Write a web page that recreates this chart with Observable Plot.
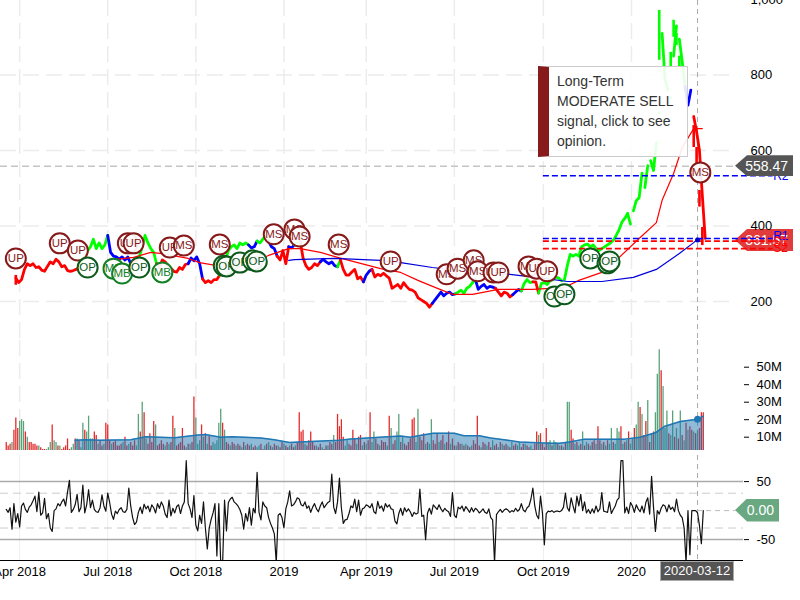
<!DOCTYPE html>
<html><head><meta charset="utf-8">
<script src="https://cdn.jsdelivr.net/npm/d3@7"></script>
<script src="https://cdn.jsdelivr.net/npm/@observablehq/plot@0.6"></script>
<style>
html,body{margin:0;padding:0;background:#fff;font-family:"Liberation Sans",Arial,sans-serif}
#root{position:relative;width:800px;height:600px;overflow:hidden}
#root svg{position:absolute;left:0;background:transparent}
.tag{position:absolute;color:#fff;font-size:14px;display:flex;align-items:center;justify-content:flex-end;box-sizing:border-box;padding-right:5px;clip-path:polygon(0 50%,12px 0,100% 0,100% 100%,12px 100%)}
#tip{position:absolute;left:538px;top:66px;width:150px;height:91px;box-sizing:border-box;background:rgba(255,255,255,.9);border:1px solid #ccc;border-left:11px solid #871a1a;padding:4px 10px 0 8px;font-size:14px;line-height:20px;color:#333}
#date{position:absolute;left:660px;top:561px;width:74px;height:20px;background:#555;border:1px solid #aaa;box-sizing:border-box;color:#fff;font-size:13px;line-height:18px;text-align:center}
</style></head><body><div id="root"></div>
<script>
const xStart = new Date("2018-03-13"), xEnd = new Date("2020-04-27");
const tickDates = ["2018-04-02","2018-07-03","2018-10-03","2019-01-03","2019-03-30","2019-06-30","2019-10-01","2020-01-01"].map(d=>new Date(d));
const tickLabels = ["Apr 2018","Jul 2018","Oct 2018","2019","Apr 2019","Jul 2019","Oct 2019","2020"];
const crossDate = new Date("2020-03-10");
const crossLabel = "2020-03-12";

const priceStart = new Date("2018-03-29");
const prices = [262,250,258,285,300,295,300,290,292,283,280,293,305,300,312,305,292,295,282,280,282,285,
290,305,320,335,345,365,340,355,340,350,375,330,320,318,312,318,310,318,300,305,308,318,345,375,355,340,330,
300,290,310,305,295,288,280,278,290,285,298,300,315,308,318,300,260,250,255,250,258,258,270,290,310,335,345,350,340,355,350,355,
350,342,345,360,355,365,375,360,345,340,320,310,335,300,345,342,350,355,360,315,295,285,290,300,295,305,312,305,300,305,295,292,310,
285,270,270,278,285,260,265,252,270,280,285,265,272,268,275,268,262,235,240,245,235,250,240,232,230,225,210,205,200,195,185,195,205,
215,225,215,222,225,218,220,225,230,222,235,240,250,258,232,240,245,235,240,238,235,225,215,225,222,212,218,225,232,228,
248,258,250,252,252,222,248,250,245,255,258,265,262,255,258,295,325,320,325,320,345,350,352,345,350,340,335,340,345,350,355,
362,375,390,410,420,433,405,440,467,475,540,502,560,573,547,620,700,910,790,760,740,850,930,895,835,770,720,760,690,650,600,481,367];
const runStart = [0,22,32,40,43,49,60,65,71,81,84,88,91,95,97,99,106,112,113,121,124,145,153,159,160,167,173,176,180,182,191,213,215,219,221,223,224,225,228,229,231,233,236];
const runColor = ["#f00","#0f0","#00f","#f00","#0f0","#f00","#00f","#f00","#0f0","#00f","#0f0","#00f","#f00","#00f","#0f0","#f00","#00f","#0f0","#f00","#00f","#f00","#00f","#0f0","#0f0","#00f","#f00","#00f","#0f0","#f00","#0f0","#0f0","#0f0","#0f0","#0f0","#0f0","#0f0","#0f0","#0f0","#0f0","#0f0","#0f0","#00f","#f00"];
// runs that do not join the run before them
const gapRuns = [191,215,219,221,224,225,228,229,231,236];
const wickIdx  = [0,224,228,229,230,231,236,237,238,239];
const wickLow  = [243,839,820,900,878,820,608,565,450,348];
const wickHigh = [269,971,860,945,910,850,666,608,494,396];
const wickColor= ["#f00","#0f0","#0f0","#0f0","#0f0","#0f0","#f00","#f00","#f00","#f00"];

const redMaIdx = [32,41,47,51,60,64,76,88,95,99,106,112,120,127,134,140,147,152,159,168,180,191,196,204,209,217,223,225,229,232,236,239];
const redMaVal = [309,317,330,327,314,303,287,322,340,340,330,317,301,287,277,256,234,219,219,232,232,237,256,277,309,367,409,468,539,608,658,658];
const blueMaIdx = [95,97,111,127,134,145,157,172,184,192,204,215,223,231,236,237,239];
const blueMaVal = [309,311,314,309,303,290,280,272,261,253,253,264,285,327,356,363,367];

const lastPrice = 558.47, closePrice = 361.57, lastCci = 0;
const levelNames = ["R2","R1","S1","S2"];
const levelValues = [533,367,360,340];
const levelColors = ["#00f","#00f","#f00","#f00"];
const levelLabelValues = [533,372,356,340];
const levelFrom = new Date("2019-10-01"), levelTo = new Date("2020-05-28"), priceLineTo = new Date("2020-04-19");

const markerIdx = [0,15.3,21.6,25,34,37,43,39,41,53.6,58.5,51,71,72.4,73.4,78,82.5,83.9,89.8,97,98.8,112.4,130.5,150,153.8,159.4,160.8,166.3,168,178.5,181.3,185,187.5,191,200,206,206.7,238.3];
const markerVal = [314,354,335,290,287,274,290,354,354,343,348,277,351,295,293,303,309,306,378,391,372,351,306,272,287,309,280,277,277,293,287,280,213,219,314,301,306,542];
const markerType= ["UP","UP","UP","OP","MB","MB","OP","UP","UP","UP","MS","MB","MS","OP","OP","OP","OP","OP","MS","MS","MS","MS","UP","MS","MS","MS","MS","UP","UP","MS","UP","UP","OP","OP","OP","OP","OP","MS"];
const markerColor = {UP:"#861a1a",MS:"#861a1a",OP:"#0e5a1c",MB:"#148024"};

const volStart = new Date("2018-03-19");
// millions; a minus sign marks a green (down) day
const volume = [7,5,6,-7,14,21,15,-19,-20,-19,
13,-10,7,7,6,6,5,-5,4,3,
3,-3,-4,-7,17,-8,-7,5,-5,3,
4,5,9,3,-4,-6,9,-9,8,-4,
-18,14,-13,-22,-9,-9,13,11,-6,8,
5,-6,18,17,8,-6,7,8,5,5,
6,-7,10,5,-6,7,5,8,-5,-23,
13,-30,24,-9,6,12,7,19,-17,5,
6,8,6,-5,7,-6,7,22,-15,5,
6,7,15,5,-4,6,-6,7,33,-21,
-6,-8,17,-10,12,-6,11,5,-7,-6,
-8,-18,-26,18,-14,7,6,-5,7,6,
-5,6,5,-4,7,-5,6,5,-6,4,
5,-4,-5,6,3,-5,6,-7,5,-4,
6,5,-5,4,7,-6,5,4,-5,6,
4,-5,7,24,13,14,-6,5,8,13,
7,5,-5,4,6,-4,3,5,-5,7,
6,-11,7,23,16,20,10,-5,-8,6,
5,14,9,-6,10,11,-5,7,-6,8,
24,-7,-13,9,6,-5,8,7,7,-5,
22,-15,6,8,-13,-23,7,-10,6,5,
7,9,20,21,-7,-26,10,8,12,-6,
7,-6,-20,8,6,12,-7,8,11,-6,
7,13,-6,9,5,-5,7,6,-6,5,
-6,5,4,-5,8,6,22,5,-4,7,
6,-5,7,4,-8,5,6,-4,7,-6,
5,6,-5,4,-7,5,6,-5,-7,4,
6,-6,5,4,-5,3,6,13,-11,12,
6,4,15,-7,-8,5,-8,-7,6,-5,
5,-4,7,-30,-30,14,9,-6,7,-5,
6,-13,5,-7,6,-5,7,8,-6,16,
8,-6,7,-5,8,-6,-15,7,-6,-15,
-13,16,-6,7,-8,13,-6,-9,15,-17,
-30,27,-23,11,19,-31,7,-12,13,-24,
-46,-60,48,-39,-15,-25,12,-11,-25,10,
-15,9,-25,11,-8,18,-14,16,14,-13,
12,-14,15,24,24];
const volMaIdx = [36,41,49,65,73,80,88,99,104,112,118,133,140,148,159,174,180,206,211,216,223,234,239,247,253,260,268,284,289,294,302,323,331,339,344,352,361,364];
const volMaVal = [8.3,8.5,8.2,8.5,10.2,10,9.7,11.1,11.6,10,10.3,9.5,8.5,7,7.6,8.2,9,10.7,10,11,12.3,12.3,10.8,10.8,9.5,8.5,7.3,6.5,6.5,7.3,8.9,8.9,10,12.5,16.3,19,20.3,22];
const volTicks = [10,20,30,40,50];

const cci = [2,-3,5,-32,12,-20,-5,-28,8,13,
2,-3,6,10,17,25,-2,32,-8,-4,
21,-14,-5,-30,-36,0,3,12,8,15,
20,8,32,52,-3,2,10,28,-2,5,
44,-4,10,36,5,18,2,-2,-3,5,
27,8,-1,30,14,-6,-15,-1,-5,2,
5,-2,-3,2,39,8,-12,-24,-20,-3,
6,-5,11,3,8,-2,10,5,-4,12,
4,15,8,-6,-12,18,-9,4,-4,7,
10,-5,8,15,86,12,3,-12,26,-25,
-35,-8,-22,15,-30,-66,-30,-15,-4,12,
-78,12,-90,-90,18,-35,14,20,23,15,
12,8,2,-8,-32,-5,-18,5,-25,4,
-4,66,-3,-16,15,8,5,-12,-22,-30,
-40,-90,-8,-5,-12,-30,3,15,34,8,
10,15,22,20,10,8,15,4,8,-3,
6,12,3,-2,8,15,5,10,14,16,
63,6,-5,15,56,5,-22,-16,-15,-5,
8,5,20,-2,18,-8,3,5,10,8,
5,12,-2,-5,16,4,8,-1,12,6,
10,3,2,-18,-23,-5,4,-8,5,-2,
3,-2,-10,-3,-6,-4,37,-10,-8,-50,
-4,4,-6,10,6,2,10,3,-2,4,
0,-2,-10,31,-8,-12,6,3,8,-1,
7,2,-3,5,-2,4,1,-4,-1,3,
-3,-5,3,-12,-16,-90,-7,-2,2,-3,
1,3,1,-3,0,-2,4,-1,2,12,
1,-2,5,8,20,39,8,-8,-14,25,
-4,-59,-5,-1,-2,0,-3,-1,-1,-2,
0,6,30,5,-1,22,8,-4,25,8,
28,0,15,-4,2,-5,3,-4,8,-2,
3,31,-1,-2,-3,15,-5,2,8,18,
22,86,86,-4,6,-5,14,8,-3,10,
3,-2,8,-4,14,22,-6,59,6,-36,
0,-6,4,10,8,-2,10,2,6,-2,
20,0,-8,-12,-30,-90,0,-76,0,0,
0,-4,-26,-57,0];

const DAY = 864e5;
const priceDate = k => new Date(+priceStart + k*3*DAY);
const volDate = i => new Date(+volStart + i*2*DAY);
// each run also takes the first point of the next run, unless that run starts after a gap
const priceRows = runStart.flatMap((s,r)=>{
  const next = r+1<runStart.length ? runStart[r+1] : prices.length;
  const end = r+1<runStart.length && !gapRuns.includes(next) ? next : next-1;
  return d3.range(s,end+1).map(k=>({d:priceDate(k),v:prices[k],run:r,color:runColor[r]}));
});
const root = document.getElementById("root");
const base = {width:800,marginLeft:0,marginRight:57,marginTop:0,marginBottom:0,
  x:{type:"utc",domain:[xStart,xEnd]},color:{type:"identity"},
  style:{fontFamily:"'Liberation Sans',Arial,sans-serif",fontSize:"13px",color:"#000",background:"transparent"}};
const gridDash = {stroke:"#ececec",strokeWidth:1.5,strokeDasharray:"16,7"};
const crossStyle = {stroke:"#aaa",strokeWidth:1,strokeDasharray:"5,4"};

// price panel
const pricePlot = Plot.plot({...base,height:345,
  y:{domain:[83.4,997.4]},
  marks:[
    Plot.ruleY([200,400,600,800],{...gridDash,x1:xStart,x2:priceLineTo}),
    Plot.ruleX(tickDates,gridDash),
    Plot.axisY({anchor:"right",ticks:[200,400,600,800,1000],tickSize:0,tickPadding:7,label:null,tickFormat:d3.format(",")}),
    Plot.axisX({ticks:[],label:null}),
    Plot.ruleX([crossDate],crossStyle),
    Plot.ruleY([lastPrice],{x1:xStart,x2:priceLineTo,stroke:"#c4c4c4",strokeWidth:1.5,strokeDasharray:"7,4"}),
    Plot.line(priceRows,{x:"d",y:"v",z:"run",stroke:"color",strokeWidth:2.8}),
    Plot.ruleX(wickIdx,{x:k=>priceDate(k),y1:(k,i)=>wickLow[i],y2:(k,i)=>wickHigh[i],stroke:(k,i)=>wickColor[i],strokeWidth:2.6}),
    Plot.line(redMaIdx,{x:k=>priceDate(k),y:(k,i)=>redMaVal[i],stroke:"#f00",strokeWidth:1.2}),
    Plot.line(blueMaIdx,{x:k=>priceDate(k),y:(k,i)=>blueMaVal[i],stroke:"#00d",strokeWidth:1.2}),
    Plot.ruleY(levelValues,{x1:levelFrom,x2:levelTo,stroke:(v,i)=>levelColors[i],strokeWidth:1.6,strokeDasharray:"6,3"}),
    Plot.dot([363],{x:()=>crossDate,y:d=>d,r:2.5,fill:"#00c"}),
    Plot.text(levelNames,{x:()=>levelTo,y:(n,i)=>levelLabelValues[i],text:d=>d,fill:(n,i)=>levelColors[i],textAnchor:"start",fontSize:12}),
    ...markerIdx.flatMap((k,i)=>{
      const c = markerColor[markerType[i]], row=[{d:priceDate(k),v:markerVal[i],t:markerType[i]}];
      return [Plot.dot(row,{x:"d",y:"v",r:10,fill:"#fff",fillOpacity:.92,stroke:c,strokeWidth:2}),
              Plot.text(row,{x:"d",y:"v",text:"t",fill:c,fontSize:11.5})];
    })
  ]});

// volume panel
const volMin = 2.4;
const volRows = volume.map((v,i)=>({d:volDate(i),v:Math.abs(v),color:v<0?"#5aa37a":"#e32b2b"}));
const volMaRows = volMaIdx.map((k,i)=>({d:volDate(k),v:volMaVal[i]}));
const volPlot = Plot.plot({...base,height:110,
  y:{domain:[volMin,volMin+110/1.75]},
  marks:[
    Plot.ruleX(tickDates,gridDash),
    Plot.ruleX([crossDate],crossStyle),
    Plot.ruleX(volRows,{x:"d",y1:volMin,y2:"v",stroke:"color",strokeWidth:1.3}),
    Plot.areaY(volMaRows,{x:"d",y1:volMin,y2:"v",fill:"#1f77b4",fillOpacity:.5}),
    Plot.line(volMaRows,{x:"d",y:"v",stroke:"#1f77b4",strokeWidth:1.5}),
    Plot.dot([20.3],{x:()=>crossDate,y:d=>d,r:3.5,fill:"#1f77b4"}),
    Plot.axisX({ticks:[],label:null}),
    Plot.axisY({anchor:"right",ticks:volTicks,tickSize:5,tickPadding:8,label:null,tickFormat:d=>d+"M"})
  ]});
volPlot.style.top="340px";

// CCI panel
const cciRows = cci.map((v,i)=>({d:volDate(i),v}));
const cciPlot = Plot.plot({...base,height:145,marginBottom:40,
  y:{domain:[-86,95]},
  marks:[
    Plot.ruleX(tickDates,{stroke:"#eee",strokeWidth:1}),
    Plot.ruleY([50,-50],{stroke:"#aaa",strokeWidth:1.5}),
    Plot.ruleY([30,-30],{stroke:"#ccc",strokeWidth:1,strokeDasharray:"8,5"}),
    Plot.ruleX([crossDate],crossStyle),
    Plot.ruleY([lastCci],{x1:crossDate,x2:priceLineTo,stroke:"#bbb",strokeDasharray:"5,4"}),
    Plot.line(cciRows,{x:"d",y:"v",stroke:"#111",strokeWidth:1.2,clip:true}),
    Plot.ruleY([-86],{stroke:"#000",strokeWidth:1}),
    Plot.axisX({ticks:tickDates,tickSize:0,tickPadding:6,label:null,tickFormat:d=>tickLabels[tickDates.findIndex(t=>+t===+d)]}),
    Plot.axisY({anchor:"right",ticks:[-50,50],tickSize:5,tickPadding:8,label:null,tickFormat:d=>String(d)})
  ]});
cciPlot.style.top="455px";

function tag(text,color,value,scale,top0,w,h){
  const el=document.createElement("div");el.className="tag";el.textContent=text;
  const y=scale.apply(value)+top0;
  el.style.cssText=`left:735px;top:${y-h/2}px;width:${w}px;height:${h}px;background:${color}`;
  return el;
}
pricePlot.style.top="0px";
root.append(tag(closePrice.toFixed(2),"#e13b3b",closePrice,pricePlot.scale("y"),0,58,22));
root.append(pricePlot,volPlot,cciPlot);
root.append(tag(lastPrice.toFixed(2),"#555",lastPrice,pricePlot.scale("y"),0,58,21));
root.append(tag(lastCci.toFixed(2),"#6aa882",lastCci,cciPlot.scale("y"),455,44,23));
const tip=document.createElement("div");tip.id="tip";tip.textContent="Long-Term MODERATE SELL signal, click to see opinion.";root.append(tip);
const dt=document.createElement("div");dt.id="date";dt.textContent=crossLabel;root.append(dt);
</script></body></html>
